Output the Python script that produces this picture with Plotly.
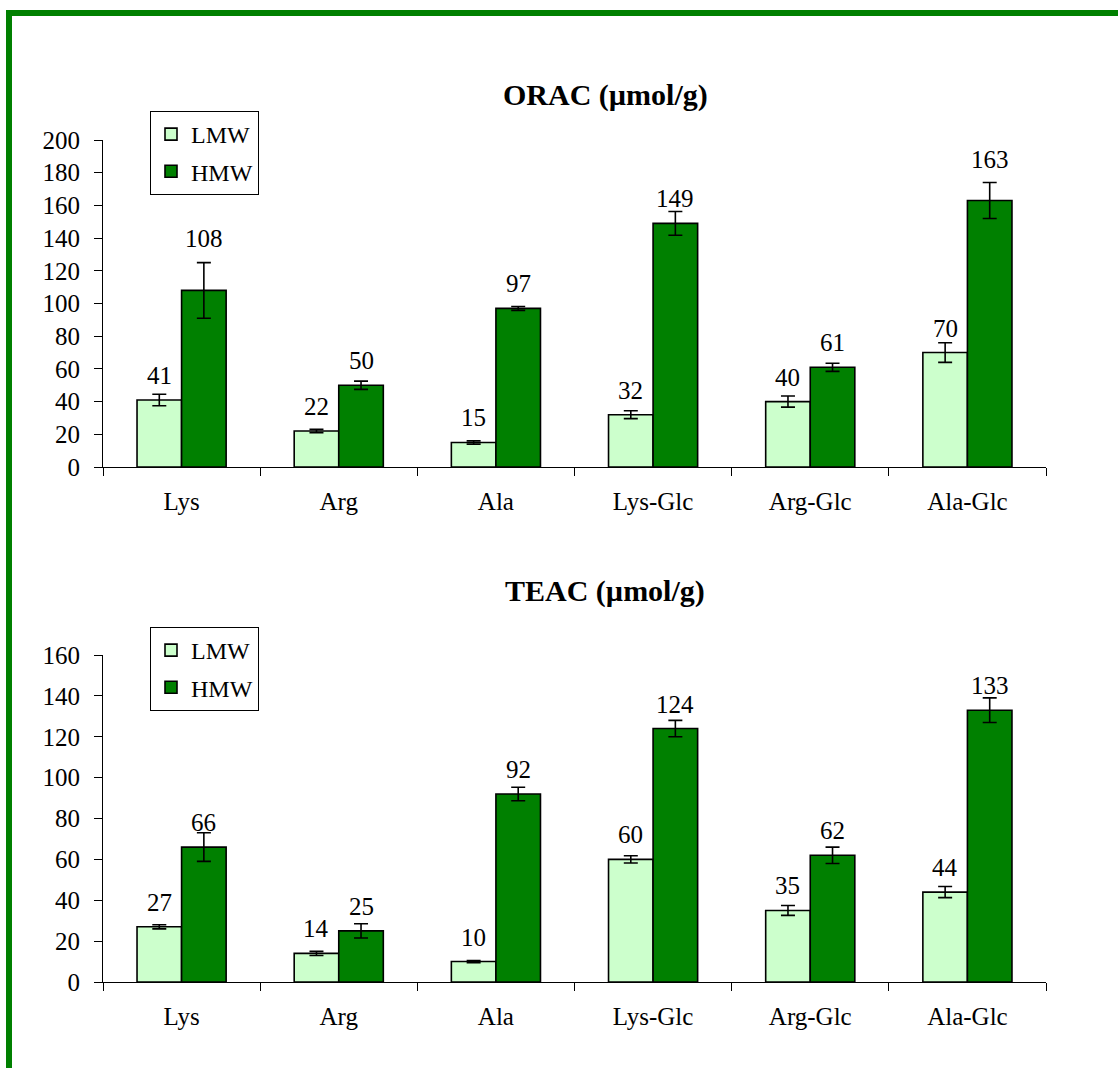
import plotly.graph_objects as go
from plotly.subplots import make_subplots

# Samples and measured antioxidant capacities (mean, standard deviation)
categories = ["Lys", "Arg", "Ala", "Lys-Glc", "Arg-Glc", "Ala-Glc"]

orac_lmw = [41, 22, 15, 32, 40, 70]
orac_lmw_sd = [3.5, 1, 1, 2.4, 3.4, 6]
orac_hmw = [108, 50, 97, 149, 61, 163]
orac_hmw_sd = [17, 2.5, 1.2, 7.3, 2.5, 11]

teac_lmw = [27, 14, 10, 60, 35, 44]
teac_lmw_sd = [1, 1, 0.5, 1.8, 2.4, 2.7]
teac_hmw = [66, 25, 92, 124, 62, 133]
teac_hmw_sd = [7, 3.5, 3.3, 4, 4, 6]

y_ticks_orac = list(range(0, 201, 20))
y_ticks_teac = list(range(0, 161, 20))

W, H = 1118, 1068
FONT = "Times New Roman, Liberation Serif, serif"
LIGHT = "#CCFFCC"
DARK = "#008000"


def px(x):
    return x / W


def py(y):
    return 1 - y / H


fig = make_subplots(rows=2, cols=1)

panels = [
    (1, "legend", orac_lmw, orac_lmw_sd, orac_hmw, orac_hmw_sd),
    (2, "legend2", teac_lmw, teac_lmw_sd, teac_hmw, teac_hmw_sd),
]

for row, leg, lmw, lmw_sd, hmw, hmw_sd in panels:
    for name, vals, sd, color in [("LMW", lmw, lmw_sd, LIGHT), ("HMW", hmw, hmw_sd, DARK)]:
        fig.add_trace(
            go.Bar(
                x=categories, y=vals, name=name, legend=leg, legendgroup=name + leg,
                marker=dict(color=color, line=dict(color="black", width=1.6)),
                error_y=dict(type="data", array=sd, visible=True, color="black",
                             thickness=1.6, width=7),
            ),
            row=row, col=1,
        )

# Value labels above the bars; a few sit higher to clear long error bars
lift = {(1, "Lys", "HMW"): 27, (1, "Ala-Glc", "HMW"): 17}
annotations = []
for row, _, lmw, _, hmw, _ in panels:
    for name, vals, dx in [("LMW", lmw, -22.3), ("HMW", hmw, 22.3)]:
        for cat, v in zip(categories, vals):
            annotations.append(dict(
                x=cat, y=v, xref="x" if row == 1 else "x2", yref="y" if row == 1 else "y2",
                text=f"{v:g}", showarrow=False, xshift=dx,
                yanchor="bottom", yshift=9 + lift.get((row, cat, name), 0),
                font=dict(family=FONT, size=25, color="black"),
            ))

annotations.append(dict(x=px(605), y=py(76), xref="paper", yref="paper",
                        text="<b>ORAC (µmol/g)</b>", showarrow=False,
                        font=dict(family=FONT, size=30, color="black")))
annotations.append(dict(x=px(605), y=py(591), xref="paper", yref="paper",
                        text="<b>TEAC (µmol/g)</b>", showarrow=False,
                        font=dict(family=FONT, size=30, color="black")))

axis_common = dict(showline=True, linecolor="black", linewidth=1, ticks="outside",
                   tickcolor="black", ticklen=8, showgrid=False, zeroline=False,
                   automargin=False,
                   tickfont=dict(family=FONT, size=25, color="black"))

fig.update_xaxes(**axis_common, tickson="boundaries", ticklabelstandoff=12)
fig.update_yaxes(**axis_common, ticklabelstandoff=9)

fig.update_layout(
    width=W, height=H, autosize=False,
    margin=dict(l=0, r=0, t=0, b=0, pad=0),
    paper_bgcolor="white", plot_bgcolor="white",
    barmode="group", bargap=0.433, bargroupgap=0,
    xaxis=dict(domain=[px(103), px(1046)]),
    xaxis2=dict(domain=[px(103), px(1046)]),
    yaxis=dict(domain=[py(467), py(140)], range=[0, 200], tickvals=y_ticks_orac),
    yaxis2=dict(domain=[py(982), py(655)], range=[0, 160], tickvals=y_ticks_teac),
    legend=dict(x=px(150), y=py(111), xanchor="left", yanchor="top",
                bordercolor="black", borderwidth=1, bgcolor="white",
                tracegroupgap=3, font=dict(family=FONT, size=24, color="black")),
    legend2=dict(x=px(150), y=py(627), xanchor="left", yanchor="top",
                 bordercolor="black", borderwidth=1, bgcolor="white",
                 tracegroupgap=3, font=dict(family=FONT, size=24, color="black")),
    annotations=annotations,
    shapes=[
        dict(type="rect", xref="paper", yref="paper", x0=px(6), x1=1, y0=py(16), y1=py(10),
             fillcolor=DARK, line=dict(width=0)),
        dict(type="rect", xref="paper", yref="paper", x0=px(6), x1=px(12), y0=0, y1=py(10),
             fillcolor=DARK, line=dict(width=0)),
    ],
    showlegend=True,
)

fig.write_html("out.html")
